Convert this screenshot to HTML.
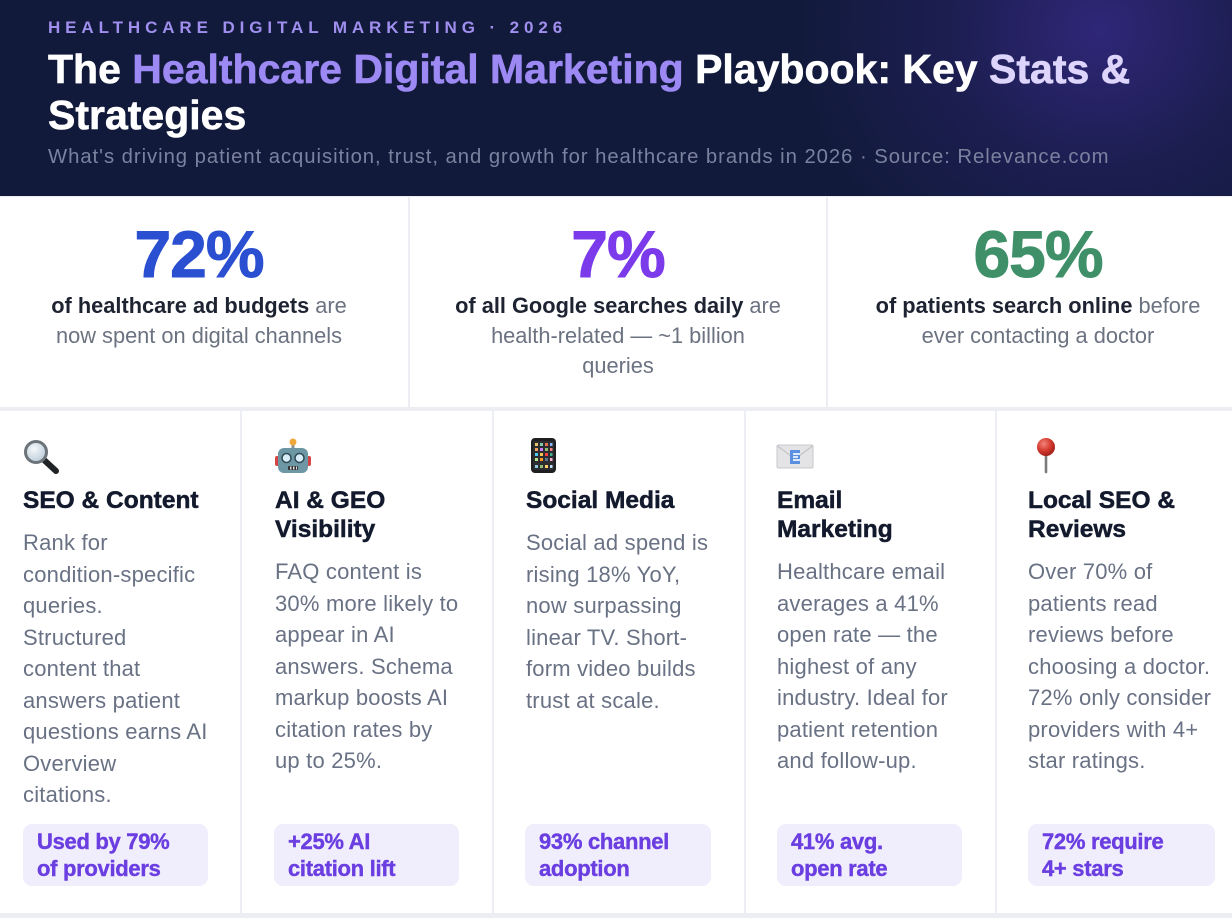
<!DOCTYPE html>
<html><head><meta charset="utf-8"><style>
*{margin:0;padding:0;box-sizing:border-box}
html,body{width:1232px;height:918px;overflow:hidden;background:#eceef3;font-family:"Liberation Sans",Arial,sans-serif}
.hdr{position:absolute;left:0;top:0;width:1232px;height:196px;background:#111a3a;overflow:hidden}
.glow{position:absolute;left:780px;top:-260px;width:640px;height:580px;background:radial-gradient(ellipse at center,rgba(55,42,135,0.8) 0%,rgba(40,34,105,0.45) 35%,rgba(17,26,58,0) 70%)}
.eyebrow{position:absolute;left:48px;top:18px;line-height:20px;font-size:17px;font-weight:700;letter-spacing:4.9px;color:#a08fef;white-space:nowrap}
.title{position:absolute;left:48px;top:46px;line-height:46px;font-size:41px;font-weight:700;letter-spacing:0px;color:#fff;white-space:nowrap;-webkit-text-stroke:0.6px currentColor}
.title .p{color:#9d89f4}.title .l{color:#ddd5fc}
.sub{position:absolute;left:48px;top:145px;line-height:24px;font-size:20.3px;letter-spacing:0.95px;color:#7a829f;white-space:nowrap}
.cell{position:absolute;background:#fff}
.num{position:absolute;left:0;right:0;top:221px;line-height:66px;font-size:66px;font-weight:700;letter-spacing:-1px;text-align:center;-webkit-text-stroke:1px currentColor}
.desc{position:absolute;left:0;right:0;top:291px;line-height:30px;font-size:21.8px;color:#6b7280;text-align:center;white-space:nowrap}
.desc b{color:#1e2332}
.card{position:absolute;top:411px;height:502px;background:#fff}
.ct{position:absolute;top:485.5px;line-height:29px;font-size:24.5px;font-weight:700;color:#131a2d;white-space:nowrap;-webkit-text-stroke:0.5px currentColor}
.cb{position:absolute;line-height:31.5px;font-size:22px;letter-spacing:0.2px;color:#697184;white-space:nowrap}
.badge{position:absolute;top:824px;height:62px;border-radius:9px;background:#f0edfd;padding:5px 0 0 14px;line-height:26.5px;font-size:22px;font-weight:700;letter-spacing:-0.3px;color:#6a3ee0;white-space:nowrap;-webkit-text-stroke:0.4px currentColor}
svg.ic{position:absolute}
</style></head><body>
<div class="hdr">
  <div class="glow"></div>
  <div class="eyebrow">HEALTHCARE DIGITAL MARKETING · 2026</div>
  <div class="title">The <span class="p">Healthcare Digital Marketing</span> Playbook: Key <span class="l">Stats &amp;</span><br>Strategies</div>
  <div class="sub">What's driving patient acquisition, trust, and growth for healthcare brands in 2026 · Source: Relevance.com</div>
</div>

<!-- stats -->
<div class="cell" style="left:0;top:197px;width:408px;height:210px"></div>
<div class="cell" style="left:410px;top:197px;width:416px;height:210px"></div>
<div class="cell" style="left:828px;top:197px;width:404px;height:210px"></div>

<div class="num" style="left:-11px;width:420px;right:auto;color:#2a4fd1">72%</div>
<div class="desc" style="left:-11px;width:420px;right:auto"><b>of healthcare ad budgets</b> are<br>now spent on digital channels</div>

<div class="num" style="left:409px;width:418px;right:auto;color:#7b3beb">7%</div>
<div class="desc" style="left:409px;width:418px;right:auto"><b>of all Google searches daily</b> are<br>health-related — ~1 billion<br>queries</div>

<div class="num" style="left:827px;width:422px;right:auto;color:#3f9068">65%</div>
<div class="desc" style="left:827px;width:422px;right:auto"><b>of patients search online</b> before<br>ever contacting a doctor</div>

<!-- cards -->
<div class="card" style="left:0;width:240px"></div>
<div class="card" style="left:242px;width:250px"></div>
<div class="card" style="left:494px;width:250px"></div>
<div class="card" style="left:746px;width:249px"></div>
<div class="card" style="left:997px;width:235px"></div>

<!-- icons -->
<svg class="ic" style="left:22px;top:438px" width="40" height="38" viewBox="0 0 40 38">
  <defs><radialGradient id="lens" cx="40%" cy="35%" r="70%"><stop offset="0" stop-color="#f4f8fb"/><stop offset="1" stop-color="#b9cad6"/></radialGradient></defs>
  <line x1="21" y1="21" x2="34" y2="33" stroke="#1f2326" stroke-width="6" stroke-linecap="round"/>
  <circle cx="14" cy="14" r="10.5" fill="url(#lens)" stroke="#6c737a" stroke-width="3"/>
</svg>
<svg class="ic" style="left:274px;top:437px" width="38" height="38" viewBox="0 0 38 38">
  <rect x="17.5" y="5" width="3" height="7" fill="#8a8f96"/>
  <circle cx="19" cy="5" r="3.5" fill="#f0a83a"/>
  <rect x="1" y="19" width="5" height="10" rx="2" fill="#d64545"/>
  <rect x="32" y="19" width="5" height="10" rx="2" fill="#d64545"/>
  <rect x="4" y="11" width="30" height="25" rx="6" fill="#6d97a4"/>
  <circle cx="12.5" cy="21" r="4.5" fill="#d7edf7" stroke="#2f4a55" stroke-width="1.5"/>
  <circle cx="25.5" cy="21" r="4.5" fill="#d7edf7" stroke="#2f4a55" stroke-width="1.5"/>
  <rect x="14" y="29" width="10" height="4" rx="1" fill="#333"/>
  <rect x="16" y="29.5" width="1.5" height="3" fill="#ddd"/><rect x="19" y="29.5" width="1.5" height="3" fill="#ddd"/><rect x="22" y="29.5" width="1" height="3" fill="#ddd"/>
</svg>
<svg class="ic" style="left:529px;top:437px" width="30" height="38" viewBox="0 0 30 38">
  <rect x="2" y="1" width="25" height="35" rx="4" fill="#1f1f22"/>
  <rect x="4" y="4" width="21" height="29" rx="1" fill="#2b2b30"/>
  <g>
    <rect x="6" y="6" width="3" height="3" fill="#e9c46a"/><rect x="11" y="6" width="3" height="3" fill="#7fc8a9"/><rect x="16" y="6" width="3" height="3" fill="#e76f51"/><rect x="21" y="6" width="2.5" height="3" fill="#8ab4f8"/>
    <rect x="6" y="11" width="3" height="3" fill="#f4a261"/><rect x="11" y="11" width="3" height="3" fill="#c77dff"/><rect x="16" y="11" width="3" height="3" fill="#90be6d"/><rect x="21" y="11" width="2.5" height="3" fill="#f28482"/>
    <rect x="6" y="16" width="3" height="3" fill="#4cc9f0"/><rect x="11" y="16" width="3" height="3" fill="#f9c74f"/><rect x="16" y="16" width="3" height="3" fill="#f94144"/><rect x="21" y="16" width="2.5" height="3" fill="#43aa8b"/>
    <rect x="6" y="21" width="3" height="3" fill="#b5e48c"/><rect x="11" y="21" width="3" height="3" fill="#f8961e"/><rect x="16" y="21" width="3" height="3" fill="#577590"/><rect x="21" y="21" width="2.5" height="3" fill="#ffafcc"/>
    <rect x="6" y="28" width="3" height="3" fill="#8ecae6"/><rect x="11" y="28" width="3" height="3" fill="#90be6d"/><rect x="16" y="28" width="3" height="3" fill="#ffd166"/><rect x="21" y="28" width="2.5" height="3" fill="#bde0fe"/>
  </g>
</svg>
<svg class="ic" style="left:776px;top:443px" width="38" height="28" viewBox="0 0 38 28">
  <rect x="1" y="2" width="36" height="23" rx="1.5" fill="#e4e4e6" stroke="#c9c9cc" stroke-width="1"/>
  <polyline points="1.5,3 19,16 36.5,3" fill="none" stroke="#c4c4c8" stroke-width="1.2"/>
  <rect x="14" y="7" width="10" height="14" fill="#5b8fe0"/>
  <rect x="17" y="10" width="7" height="2" fill="#dbe8fb"/><rect x="17" y="13" width="5" height="2" fill="#dbe8fb"/><rect x="17" y="16" width="7" height="2" fill="#dbe8fb"/>
</svg>
<svg class="ic" style="left:1032px;top:436px" width="28" height="38" viewBox="0 0 28 38">
  <defs><radialGradient id="pin" cx="38%" cy="32%" r="65%"><stop offset="0" stop-color="#f2847a"/><stop offset="0.6" stop-color="#d53b30"/><stop offset="1" stop-color="#a8241c"/></radialGradient></defs>
  <line x1="14" y1="18" x2="14" y2="36" stroke="#7b7b7b" stroke-width="2.6" stroke-linecap="round"/>
  <circle cx="14" cy="11" r="9" fill="url(#pin)"/>
</svg>

<!-- card texts -->
<div class="ct" style="left:23px">SEO &amp; Content</div>
<div class="cb" style="left:23px;top:527px">Rank for<br>condition-specific<br>queries.<br>Structured<br>content that<br>answers patient<br>questions earns AI<br>Overview<br>citations.</div>
<div class="badge" style="left:23px;width:185px">Used by 79%<br>of providers</div>

<div class="ct" style="left:275px">AI &amp; GEO<br>Visibility</div>
<div class="cb" style="left:275px;top:556px">FAQ content is<br>30% more likely to<br>appear in AI<br>answers. Schema<br>markup boosts AI<br>citation rates by<br>up to 25%.</div>
<div class="badge" style="left:274px;width:185px">+25% AI<br>citation lift</div>

<div class="ct" style="left:526px">Social Media</div>
<div class="cb" style="left:526px;top:527px">Social ad spend is<br>rising 18% YoY,<br>now surpassing<br>linear TV. Short-<br>form video builds<br>trust at scale.</div>
<div class="badge" style="left:525px;width:186px">93% channel<br>adoption</div>

<div class="ct" style="left:777px">Email<br>Marketing</div>
<div class="cb" style="left:777px;top:556px">Healthcare email<br>averages a 41%<br>open rate — the<br>highest of any<br>industry. Ideal for<br>patient retention<br>and follow-up.</div>
<div class="badge" style="left:777px;width:185px">41% avg.<br>open rate</div>

<div class="ct" style="left:1028px">Local SEO &amp;<br>Reviews</div>
<div class="cb" style="left:1028px;top:556px">Over 70% of<br>patients read<br>reviews before<br>choosing a doctor.<br>72% only consider<br>providers with 4+<br>star ratings.</div>
<div class="badge" style="left:1028px;width:187px">72% require<br>4+ stars</div>
</body></html>
